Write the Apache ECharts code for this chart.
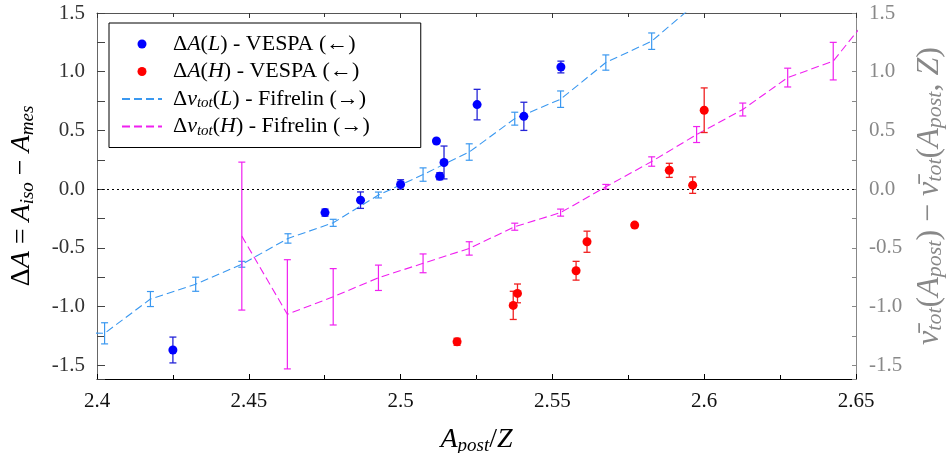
<!DOCTYPE html>
<html><head><meta charset="utf-8">
<script src="https://cdn.jsdelivr.net/npm/echarts@6/dist/echarts.min.js"></script>
<style>html,body{margin:0;padding:0;background:#fff}#c{width:947px;height:453px}</style>
</head><body><div id="c"></div>
<script>
// ---- data ----
const vespaLx   = [2.425, 2.4751, 2.4868, 2.5, 2.5118, 2.5129, 2.5143, 2.5252, 2.5406, 2.5528];
const vespaLy   = [-1.37, -0.20, -0.094, 0.04, 0.41, 0.11, 0.227, 0.72, 0.62, 1.04];
const vespaLerr = [0.11, 0.03, 0.07, 0.04, 0.02, 0.03, 0.14, 0.13, 0.12, 0.05];

const vespaHx   = [2.5186, 2.5371, 2.5385, 2.5578, 2.5614, 2.5771, 2.5885, 2.5962, 2.6];
const vespaHy   = [-1.30, -0.99, -0.888, -0.695, -0.448, -0.306, 0.16, 0.034, 0.672];
const vespaHerr = [0.03, 0.12, 0.08, 0.08, 0.09, 0.02, 0.06, 0.07, 0.19];

const fifLx   = [2.3875, 2.4025, 2.4176, 2.4325, 2.4477, 2.4629, 2.4778, 2.4927, 2.5074, 2.5226, 2.5376, 2.5527, 2.5676, 2.5827, 2.5977];
const fifLy   = [-1.22, -1.228, -0.936, -0.81, -0.64, -0.42, -0.287, -0.05, 0.124, 0.316, 0.60, 0.766, 1.078, 1.26, 1.59];
const fifLerr = [0.09, 0.09, 0.064, 0.06, 0.025, 0.04, 0.03, 0.025, 0.057, 0.07, 0.055, 0.07, 0.065, 0.07, 0.07];

const fifHx   = [2.4477, 2.4627, 2.4778, 2.4927, 2.5074, 2.5226, 2.5376, 2.5527, 2.5676, 2.5827, 2.5975, 2.6127, 2.6275, 2.6425, 2.6577];
const fifHy   = [-0.40, -1.066, -0.917, -0.755, -0.632, -0.505, -0.32, -0.20, 0.02, 0.235, 0.465, 0.678, 0.95, 1.09, 1.58];
const fifHerr = [0.63, 0.465, 0.24, 0.108, 0.08, 0.057, 0.03, 0.03, 0.02, 0.04, 0.068, 0.055, 0.08, 0.16, 0.10];

const xMin = 2.4, xMax = 2.65, xStep = 0.05;
const yMin = -1.617, yMax = 1.5;

const names = ['ΔA(L) - VESPA (←)', 'ΔA(H) - VESPA (←)', 'Δν_tot(L) - Fifrelin (→)', 'Δν_tot(H) - Fifrelin (→)'];
const richNames = {
  'ΔA(L) - VESPA (←)': '{n|Δ}{i|A}{n|(}{i|L}{n|) - VESPA (←)}',
  'ΔA(H) - VESPA (←)': '{n|Δ}{i|A}{n|(}{i|H}{n|) - VESPA (←)}',
  'Δν_tot(L) - Fifrelin (→)': '{n|Δ}{i|ν}{s|tot}{n|(}{i|L}{n|) - Fifrelin (→)}',
  'Δν_tot(H) - Fifrelin (→)': '{n|Δ}{i|ν}{s|tot}{n|(}{i|H}{n|) - Fifrelin (→)}'
};

const FONT = 'Liberation Serif';
function rich(size, sub, lh, color) {
  return {
    n: {fontFamily: FONT, fontSize: size, color: color, lineHeight: lh},
    i: {fontFamily: FONT, fontSize: size, fontStyle: 'italic', color: color, lineHeight: lh},
    s: {fontFamily: FONT, fontSize: sub, fontStyle: 'italic', color: color, lineHeight: Math.round(lh/2), verticalAlign: 'bottom'}
  };
}

const zip = (xs, ys) => xs.map((x, i) => [x, ys[i]]);
const errData = (xs, ys, es) => xs.map((x, i) => [x, ys[i] - es[i], ys[i] + es[i]]);

function errRender(capW, color, width) {
  return function (params, api) {
    const x = api.value(0);
    const p1 = api.coord([x, api.value(1)]);
    const p2 = api.coord([x, api.value(2)]);
    const st = {stroke: color, lineWidth: width, fill: null};
    return {type: 'group', children: [
      {type: 'line', shape: {x1: p1[0], y1: p1[1], x2: p2[0], y2: p2[1]}, style: st},
      {type: 'line', shape: {x1: p1[0] - capW/2, y1: p1[1], x2: p1[0] + capW/2, y2: p1[1]}, style: st},
      {type: 'line', shape: {x1: p2[0] - capW/2, y1: p2[1], x2: p2[0] + capW/2, y2: p2[1]}, style: st}
    ]};
  };
}

const C_BLUE = '#0000ff', C_RED = '#ff0000', C_LB = '#3a98f0', C_MAG = '#f020f0';

const yLabelFmt = v => (Math.abs(v * 2 - Math.round(v * 2)) < 1e-6 ? v.toFixed(1) : '');

const chart = echarts.init(document.getElementById('c'), null, {renderer: 'canvas'});
chart.setOption({
  animation: false,
  backgroundColor: '#fff',
  grid: {left: 97, right: 91, top: 13, bottom: 74, containLabel: false, outerBoundsMode: 'none'},
  legend: {
    orient: 'vertical', left: 109, top: 23,
    data: [
      {name: names[0], icon: 'circle'},
      {name: names[1], icon: 'circle'},
      {name: names[2], itemStyle: {opacity: 0}},
      {name: names[3], itemStyle: {opacity: 0}}
    ],
    itemWidth: 40, itemHeight: 9, itemGap: 3.5,
    padding: [9, 51, 9, 12],
    borderColor: '#000', borderWidth: 1, backgroundColor: '#fff',
    formatter: n => richNames[n],
    textStyle: {fontFamily: FONT, fontSize: 22, color: '#000', lineHeight: 24, padding: [0, 0, 0, 6], rich: rich(22, 15, 24, '#000')}
  },
  xAxis: [{
    type: 'value', min: xMin, max: xMax, interval: xStep, position: 'bottom',
    name: '{i|A}{s|post}{n|/}{i|Z}', nameLocation: 'middle', nameGap: 46,
    nameTextStyle: {rich: rich(28, 19, 30, '#000')},
    axisLine: {show: true, onZero: false, lineStyle: {color: '#000', width: 1}},
    axisTick: {show: true, inside: true, length: 5, lineStyle: {color: '#000'}},
    minorTick: {show: true, splitNumber: 2, length: 4, lineStyle: {color: '#000'}},
    axisLabel: {fontFamily: FONT, fontSize: 21, color: '#111', margin: 12},
    splitLine: {show: false}, minorSplitLine: {show: false}
  }, {
    type: 'value', min: xMin, max: xMax, interval: xStep, position: 'top',
    axisLine: {show: true, onZero: false, lineStyle: {color: '#555', width: 1}},
    axisTick: {show: true, inside: true, length: 5, lineStyle: {color: '#333'}},
    minorTick: {show: true, splitNumber: 2, length: 4, lineStyle: {color: '#333'}},
    axisLabel: {show: false}, splitLine: {show: false}
  }],
  yAxis: [{
    type: 'value', min: yMin, max: yMax, position: 'left', splitNumber: 6,
    name: '{n|Δ}{i|A}{n| = }{i|A}{s|iso}{n| − }{i|A}{s|mes}', nameLocation: 'middle', nameRotate: 90, nameGap: 60,
    nameTextStyle: {rich: rich(28, 19, 30, '#000')},
    axisLine: {show: true, onZero: false, lineStyle: {color: '#666', width: 1}},
    axisTick: {show: true, inside: true, length: 8, lineStyle: {color: '#444'}},
    minorTick: {show: true, splitNumber: 2, length: 8, lineStyle: {color: '#444'}},
    axisLabel: {fontFamily: FONT, fontSize: 21, color: '#333', margin: 12, formatter: yLabelFmt, showMinLabel: false},
    splitLine: {show: false}, minorSplitLine: {show: false}
  }, {
    type: 'value', min: yMin, max: yMax, position: 'right', splitNumber: 6,
    name: '{i|ν̄}{s|tot}{n|(}{i|A}{s|post}{n|) − }{i|ν̄}{s|tot}{n|(}{i|A}{s|post}{n|, }{i|Z}{n|)}', nameLocation: 'middle', nameRotate: 90, nameGap: 58,
    nameTextStyle: {rich: rich(32, 22, 32, '#888')},
    axisLine: {show: true, onZero: false, lineStyle: {color: '#888', width: 1}},
    axisTick: {show: true, inside: true, length: 4, lineStyle: {color: '#888'}},
    minorTick: {show: true, splitNumber: 2, length: 4, lineStyle: {color: '#888'}},
    axisLabel: {fontFamily: FONT, fontSize: 21, color: '#888', margin: 13, formatter: yLabelFmt, showMinLabel: false},
    splitLine: {show: false}, minorSplitLine: {show: false}
  }],
  series: [
    // Fifrelin L
    {type: 'custom', name: 'errFL', yAxisIndex: 1, clip: true, z: 2, silent: true,
     renderItem: errRender(7, C_LB, 1.2), data: errData(fifLx, fifLy, fifLerr), encode: {x: 0, y: [1, 2]}},
    {type: 'line', name: names[2], yAxisIndex: 1, clip: true, z: 3, symbol: 'none', showSymbol: false,
     data: zip(fifLx, fifLy), itemStyle: {color: C_LB},
     lineStyle: {color: C_LB, width: 1.1, type: [8, 4]}},
    // Fifrelin H
    {type: 'custom', name: 'errFH', yAxisIndex: 1, clip: true, z: 2, silent: true,
     renderItem: errRender(7, C_MAG, 1.2), data: errData(fifHx, fifHy, fifHerr), encode: {x: 0, y: [1, 2]}},
    {type: 'line', name: names[3], yAxisIndex: 1, clip: true, z: 3, symbol: 'none', showSymbol: false,
     data: zip(fifHx, fifHy), itemStyle: {color: C_MAG},
     lineStyle: {color: C_MAG, width: 1.1, type: [8, 4]}},
    // VESPA L
    {type: 'custom', name: 'errVL', yAxisIndex: 0, clip: true, z: 4, silent: true,
     renderItem: errRender(7, '#2424d8', 1.3), data: errData(vespaLx, vespaLy, vespaLerr), encode: {x: 0, y: [1, 2]}},
    {type: 'scatter', name: names[0], yAxisIndex: 0, z: 5, symbol: 'circle', symbolSize: 9,
     data: zip(vespaLx, vespaLy), itemStyle: {color: C_BLUE, opacity: 1},
     markLine: {silent: true, symbol: 'none', label: {show: false},
       lineStyle: {color: '#000', type: [2, 3], width: 1}, data: [{yAxis: 0}]}},
    // VESPA H
    {type: 'custom', name: 'errVH', yAxisIndex: 0, clip: true, z: 4, silent: true,
     renderItem: errRender(7, '#f02020', 1.3), data: errData(vespaHx, vespaHy, vespaHerr), encode: {x: 0, y: [1, 2]}},
    {type: 'scatter', name: names[1], yAxisIndex: 0, z: 5, symbol: 'circle', symbolSize: 9,
     data: zip(vespaHx, vespaHy), itemStyle: {color: C_RED, opacity: 1}}
  ]
});
</script></body></html>
